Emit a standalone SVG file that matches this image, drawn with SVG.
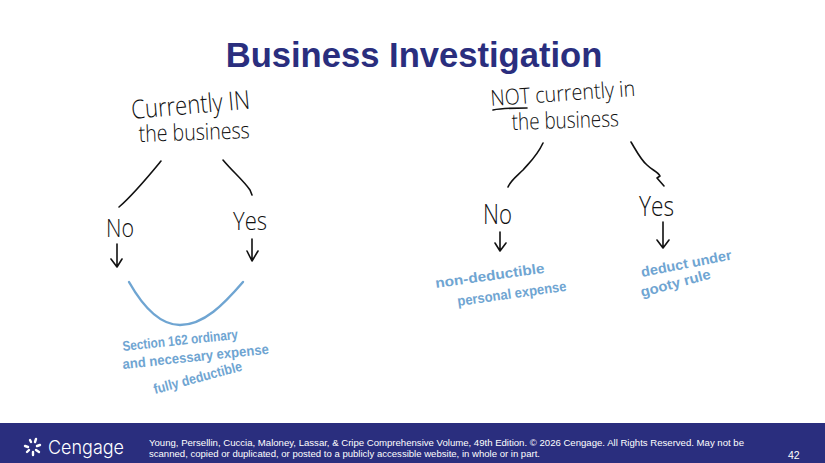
<svg xmlns="http://www.w3.org/2000/svg" width="825" height="463" viewBox="0 0 825 463">
<style>
.ink{fill:none;stroke:#111;stroke-width:1.6;stroke-linecap:round;stroke-linejoin:round}
.blue{fill:none;stroke:#6fa5d2;stroke-width:2.4;stroke-linecap:round}
.hw{font-family:"Open Sans","Liberation Sans",sans-serif;font-weight:300;fill:#111}
.bl{font-family:"Liberation Sans",sans-serif;font-weight:700;fill:#6fa5d2;font-size:14px}
.ft{font-family:"Liberation Sans",Arial,sans-serif;fill:#fff;font-size:9px}
</style>
<rect width="825" height="463" fill="#fff"/>
<text x="414" y="67" text-anchor="middle" font-family="Liberation Sans, Arial, sans-serif" font-weight="700" font-size="34.6" fill="#2a2e7e">Business Investigation</text>
<g id="node-in">
<text class="hw" font-size="26" transform="translate(132 119) rotate(-5)" textLength="119" lengthAdjust="spacingAndGlyphs">Currently IN</text>
<text class="hw" font-size="23" transform="translate(139 142) rotate(-2)" textLength="111" lengthAdjust="spacingAndGlyphs">the business</text>
</g>
<g id="node-in-no"><text class="hw" font-size="25" x="106" y="237" textLength="28" lengthAdjust="spacingAndGlyphs">No</text></g>
<g id="node-in-yes"><text class="hw" font-size="25" x="233" y="230" textLength="34" lengthAdjust="spacingAndGlyphs">Yes</text></g>
<g id="node-in-result">
<text class="bl" transform="translate(123 351) rotate(-6)" textLength="116" lengthAdjust="spacingAndGlyphs">Section 162 ordinary</text>
<text class="bl" transform="translate(123 369) rotate(-6)" textLength="147" lengthAdjust="spacingAndGlyphs">and necessary expense</text>
<text class="bl" transform="translate(155 394) rotate(-15)" textLength="91" lengthAdjust="spacingAndGlyphs">fully deductible</text>
</g>
<g id="node-not">
<text class="hw" font-size="22" transform="translate(491 106) rotate(-4)" textLength="145" lengthAdjust="spacingAndGlyphs">NOT currently in</text>
<text class="hw" font-size="23" transform="translate(512 130) rotate(-2)" textLength="107" lengthAdjust="spacingAndGlyphs">the business</text>
</g>
<g id="node-not-no"><text class="hw" font-size="27" x="483" y="224" textLength="29" lengthAdjust="spacingAndGlyphs">No</text></g>
<g id="node-not-yes"><text class="hw" font-size="27" x="639" y="216" textLength="35" lengthAdjust="spacingAndGlyphs">Yes</text></g>
<g id="node-not-no-result">
<text class="bl" transform="translate(436 288) rotate(-8)" textLength="110" lengthAdjust="spacingAndGlyphs">non-deductible</text>
<text class="bl" transform="translate(458 306) rotate(-8)" textLength="110" lengthAdjust="spacingAndGlyphs">personal expense</text>
</g>
<g id="node-not-yes-result">
<text class="bl" transform="translate(642 277) rotate(-11)" textLength="92" lengthAdjust="spacingAndGlyphs">deduct under</text>
<text class="bl" transform="translate(642 297) rotate(-15)" textLength="72" lengthAdjust="spacingAndGlyphs">gooty rule</text>
</g>
<g id="connectors">
<path class="ink" d="M161 161C147 178 134 194 119 207"/>
<path class="ink" d="M223 160C233 172 243 180 250 190L252 195"/>
<path class="ink" d="M117 244V267M111 259L117 267L122 259"/>
<path class="ink" d="M252 239V261M247 251L252 261L258 251"/>
<path class="blue" d="M129 282C146 312 163 325 180 325C204 325 224 304 243 282"/>
<path class="ink" d="M493 110C503 108 516 108 527 108"/>
<path class="ink" d="M543 143C537 156 530 162 523 170C517 176 511 180 508 187"/>
<path class="ink" d="M631 142C637 152 641 160 647 165C652 170 658 172 660 176L657 178L664 186"/>
<path class="ink" d="M500 232V251M495 243L500 251L506 243"/>
<path class="ink" d="M663 222V248M657 240L663 248L669 240"/>
</g>
<g id="footer">
<rect y="423" width="825" height="40" fill="#2a2e7e"/>
<g fill="none" stroke="#fff" stroke-width="2.4" stroke-linecap="round">
<path d="M30 440l1 2M36 439l-1 3M40 445l-3 1M39 452l-3-2M33 455v-3M27 452l2-2M25 446l3 1"/>
</g>
<text x="48" y="454" font-family="Inter, Liberation Sans, sans-serif" font-weight="300" font-size="19" fill="#fff" textLength="76" lengthAdjust="spacingAndGlyphs">Cengage</text>
<text class="ft" x="149" y="446" textLength="595" lengthAdjust="spacingAndGlyphs">Young, Persellin, Cuccia, Maloney, Lassar, &amp; Cripe Comprehensive Volume, 49th Edition. © 2026 Cengage. All Rights Reserved. May not be</text>
<text class="ft" x="149" y="457" textLength="391" lengthAdjust="spacingAndGlyphs">scanned, copied or duplicated, or posted to a publicly accessible website, in whole or in part.</text>
<text class="ft" style="font-size:10.5px" x="788" y="459">42</text>
</g>
</svg>
